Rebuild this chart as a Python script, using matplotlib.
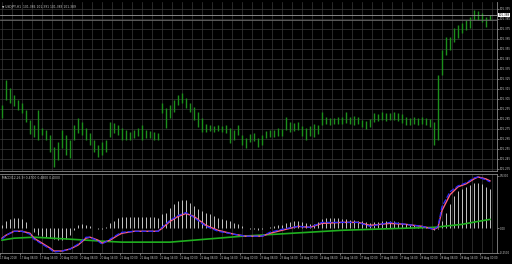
import numpy as np
import matplotlib
matplotlib.use("Agg")
import matplotlib.pyplot as plt

# price bars (high / low), one per bar
highs = [101.299, 101.324, 101.316, 101.309, 101.304, 101.301, 101.294, 101.284, 101.279, 101.294,
         101.276, 101.274, 101.269, 101.257, 101.262, 101.274, 101.269, 101.264, 101.279, 101.286,
         101.282, 101.276, 101.271, 101.264, 101.259, 101.262, 101.264, 101.282, 101.281, 101.279,
         101.276, 101.274, 101.272, 101.274, 101.276, 101.279, 101.274, 101.273, 101.272, 101.271,
         101.301, 101.296, 101.299, 101.304, 101.309, 101.311, 101.306, 101.301, 101.297, 101.292,
         101.286, 101.280, 101.279, 101.278, 101.279, 101.278, 101.279, 101.276, 101.274, 101.279,
         101.269, 101.266, 101.270, 101.271, 101.266, 101.269, 101.273, 101.274, 101.274, 101.276,
         101.275, 101.287, 101.282, 101.281, 101.282, 101.278, 101.276, 101.278, 101.280, 101.279,
         101.292, 101.287, 101.286, 101.286, 101.287, 101.287, 101.292, 101.287, 101.288, 101.287,
         101.284, 101.283, 101.285, 101.291, 101.290, 101.292, 101.291, 101.291, 101.292, 101.291,
         101.290, 101.287, 101.286, 101.287, 101.286, 101.287, 101.286, 101.285, 101.282, 101.329,
         101.354, 101.367, 101.367, 101.376, 101.379, 101.381, 101.384, 101.387, 101.394, 101.393,
         101.391, 101.387, 101.389]
lows = [101.286, 101.304, 101.301, 101.298, 101.294, 101.291, 101.282, 101.270, 101.267, 101.264,
        101.269, 101.264, 101.252, 101.237, 101.244, 101.256, 101.249, 101.246, 101.264, 101.271,
        101.269, 101.264, 101.259, 101.252, 101.247, 101.249, 101.252, 101.267, 101.271, 101.269,
        101.264, 101.264, 101.264, 101.266, 101.268, 101.264, 101.266, 101.266, 101.264, 101.264,
        101.291, 101.276, 101.286, 101.292, 101.299, 101.301, 101.296, 101.292, 101.284, 101.277,
        101.272, 101.272, 101.273, 101.272, 101.273, 101.272, 101.271, 101.261, 101.264, 101.269,
        101.259, 101.256, 101.262, 101.263, 101.257, 101.259, 101.266, 101.267, 101.267, 101.268,
        101.268, 101.274, 101.272, 101.273, 101.274, 101.268, 101.264, 101.268, 101.267, 101.270,
        101.279, 101.280, 101.279, 101.280, 101.280, 101.280, 101.281, 101.280, 101.279, 101.280,
        101.277, 101.275, 101.277, 101.282, 101.283, 101.284, 101.283, 101.284, 101.284, 101.283,
        101.281, 101.279, 101.279, 101.280, 101.279, 101.280, 101.279, 101.277, 101.259, 101.264,
        101.329, 101.349, 101.354, 101.362, 101.366, 101.371, 101.374, 101.376, 101.384, 101.384,
        101.382, 101.377, 101.384]

# MACD histogram, one per bar
hist = [0.03, 0.07, 0.09, 0.10, 0.10, 0.09, 0.06, 0.00, -0.04, -0.07,
        -0.08, -0.09, -0.10, -0.11, -0.12, -0.12, -0.11, -0.07, -0.02, 0.03,
        0.04, 0.03, 0.02, 0.00, -0.01, -0.01, 0.01, 0.05, 0.07, 0.10,
        0.11, 0.11, 0.11, 0.11, 0.11, 0.11, 0.11, 0.11, 0.11, 0.10,
        0.14, 0.16, 0.21, 0.25, 0.28, 0.29, 0.29, 0.26, 0.23, 0.20,
        0.18, 0.16, 0.14, 0.12, 0.10, 0.09, 0.08, 0.07, 0.05, 0.04,
        0.02, 0.00, -0.01, -0.01, -0.02, -0.01, 0.00, 0.01, 0.02, 0.03,
        0.03, 0.05, 0.06, 0.07, 0.07, 0.06, 0.05, 0.04, 0.04, 0.06,
        0.09, 0.10, 0.10, 0.10, 0.10, 0.09, 0.09, 0.08, 0.08, 0.07,
        0.07, 0.06, 0.05, 0.06, 0.06, 0.07, 0.07, 0.07, 0.07, 0.06,
        0.05, 0.04, 0.03, 0.03, 0.02, 0.01, 0.01, 0.00, -0.02, -0.01,
        0.07, 0.16, 0.25, 0.33, 0.38, 0.40, 0.42, 0.44, 0.46, 0.46,
        0.45, 0.42, 0.40]

# indicator lines, sampled at these bar indices
line_idx = [0, 1, 3, 5, 7, 8, 10, 12, 13, 15, 17, 19, 21, 22, 24, 25, 27, 29, 30, 33,
            39, 40, 42, 44, 46, 48, 51, 54, 58, 61, 65, 67, 70, 74, 77, 80, 85, 89, 92, 97,
            101, 105, 108, 109, 110, 112, 114, 116, 118, 119, 121, 122]
macd_line = [-0.11, -0.07, -0.03, -0.03, -0.06, -0.11, -0.16, -0.21, -0.24, -0.23,
             -0.21, -0.16, -0.09, -0.09, -0.13, -0.16, -0.11, -0.06, -0.04, -0.03,
             -0.03, 0.01, 0.08, 0.13, 0.16, 0.11, 0.02, -0.03, -0.06, -0.08,
             -0.08, -0.04, -0.01, 0.02, 0.01, 0.06, 0.06, 0.06, 0.02, 0.06,
             0.04, 0.02, -0.01, 0.02, 0.22, 0.37, 0.43, 0.46, 0.51, 0.52, 0.49, 0.47]
signal_line = [-0.10, -0.07, -0.03, -0.03, -0.05, -0.10, -0.15, -0.20, -0.23, -0.23,
               -0.21, -0.17, -0.10, -0.09, -0.12, -0.15, -0.12, -0.07, -0.05, -0.03,
               -0.03, 0.00, 0.07, 0.12, 0.15, 0.12, 0.03, -0.02, -0.06, -0.08,
               -0.08, -0.05, -0.02, 0.02, 0.01, 0.05, 0.06, 0.06, 0.03, 0.05,
               0.04, 0.02, -0.01, 0.01, 0.18, 0.34, 0.42, 0.45, 0.50, 0.52, 0.50, 0.48]
slow_idx = [0, 3, 8, 17, 25, 30, 42, 60, 85, 100, 108, 115, 119, 122]
slow_line = [-0.12, -0.10, -0.09, -0.11, -0.13, -0.14, -0.14, -0.08, -0.02, 0.00, 0.01, 0.04, 0.07, 0.09]

date_labels = ["17 Aug 2018", "17 Aug 08:00", "17 Aug 16:00", "20 Aug 00:00", "20 Aug 08:00",
               "20 Aug 16:00", "21 Aug 00:00", "21 Aug 08:00", "21 Aug 16:00", "22 Aug 00:00",
               "22 Aug 08:00", "22 Aug 16:00", "23 Aug 00:00", "23 Aug 08:00", "23 Aug 16:00",
               "24 Aug 00:00", "24 Aug 08:00", "24 Aug 16:00", "27 Aug 00:00", "27 Aug 08:00",
               "27 Aug 16:00", "28 Aug 00:00", "28 Aug 08:00", "28 Aug 16:00", "29 Aug 00:00"]

W, H = 512, 264
fig = plt.figure(figsize=(W / 100, H / 100), dpi=100, facecolor="black")
txt = "#c8c8c8"
gridc = "#3a3a3a"

ax = fig.add_axes([0, (H - 171) / H, 497 / W, 169 / H], facecolor="black")
sub = fig.add_axes([0, (H - 253) / H, 497 / W, 79 / H], facecolor="black")

x = np.arange(len(highs))
xl = (-0.5, 123.75)
grid_x = np.arange(0, 124, 2.5)
price_ticks = np.arange(101.235, 101.40, 0.010)

# main pane
for g in grid_x:
    ax.axvline(g, color=gridc, lw=0.5, zorder=0)
for p in price_ticks:
    ax.axhline(p, color=gridc, lw=0.5, zorder=0)
ax.vlines(x, lows, highs, color="#1c8f1c", lw=1.0)
ax.axhline(101.389, color="#9a9a9a", lw=0.6)
ax.axhline(101.384, color="#6a6a6a", lw=0.6)
ax.set_xlim(*xl)
ax.set_ylim(101.233, 101.402)
ax.set_xticks([])
ax.yaxis.tick_right()
ax.set_yticks(price_ticks)
ax.set_yticklabels(["%.3f" % v for v in price_ticks])
ax.tick_params(axis="y", labelsize=2.0, colors=txt, length=1.2, width=0.4, pad=0.6)
for s in ax.spines.values():
    s.set_color("#8a8a8a")
    s.set_linewidth(0.6)
ax.spines["left"].set_visible(False)
ax.spines["top"].set_visible(False)
ax.text(0.004, 0.985, "\u25bc USDJPY,H1  101.386 101.391 101.383 101.389", transform=ax.transAxes,
        fontsize=2.2, color=txt, va="top", ha="left")
ax.text(1.003, 101.389, "101.389", transform=ax.get_yaxis_transform(), fontsize=2.0,
        color="black", va="center", ha="left",
        bbox=dict(boxstyle="square,pad=0.15", fc="white", ec="none"))

# indicator pane
for g in grid_x:
    sub.axvline(g, color=gridc, lw=0.5, zorder=0)
sub.vlines(x, 0, hist, color="#c4c4c4", lw=0.7)
sub.plot(slow_idx, slow_line, color="#1fb01f", lw=1.2)
sub.plot(line_idx, signal_line, color="#ff6080", lw=1.0)
sub.plot(line_idx, macd_line, color="#2a2aff", lw=0.9, dashes=(4, 1.5))
sub.set_xlim(*xl)
sub.set_ylim(-0.25, 0.55)
sub.yaxis.tick_right()
sub.set_yticks([0.53, 0.0, -0.25])
sub.set_yticklabels(["0.5300", "0.00", "-0.2500"])
sub.tick_params(axis="y", labelsize=2.0, colors=txt, length=1.2, width=0.4, pad=0.6)
sub.set_xticks(np.arange(0, 5 * len(date_labels), 5) - 0.5)
sub.set_xticklabels(date_labels, ha="left")
sub.tick_params(axis="x", labelsize=1.9, colors=txt, length=1.2, width=0.4, pad=1.0)
for s in sub.spines.values():
    s.set_color("#8a8a8a")
    s.set_linewidth(0.6)
sub.spines["left"].set_visible(False)
sub.text(0.004, 0.97, "MACD(12,26,9) 0.4700 0.4800 0.4000", transform=sub.transAxes,
         fontsize=2.2, color=txt, va="top", ha="left")

fig.savefig("out.png", dpi=100, facecolor="black")
